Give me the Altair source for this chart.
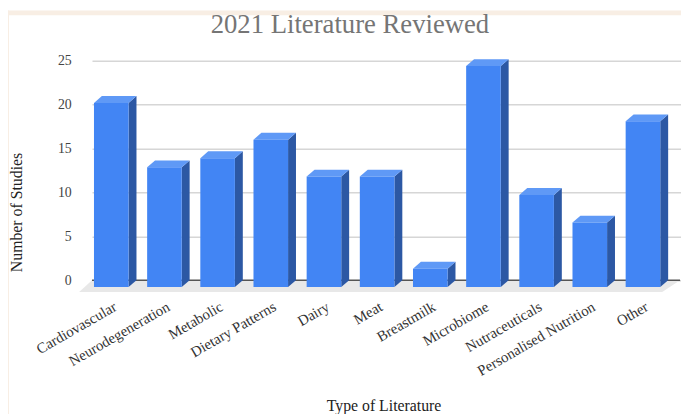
import json
import altair as alt
import pandas as pd

# ---------------- data ----------------
categories = ["Cardiovascular", "Neurodegeneration", "Metabolic", "Dietary Patterns",
              "Dairy", "Meat", "Breastmilk", "Microbiome", "Nutraceuticals",
              "Personalised Nutrition", "Other"]
studies = [20, 13, 14, 16, 12, 12, 2, 24, 10, 7, 18]
y_ticks = [0, 5, 10, 15, 20, 25]

# ---------------- geometry (pixels, plot coords) ----------------
PAD_L, PAD_T = 85, 40
PLOT_W, PLOT_H = 596, 247
TOTAL_W, TOTAL_H = 681, 406
X_FIRST, X_LAST = 19.5, 557.5          # front-face centre of first / last bar
STEP = (X_LAST - X_FIRST) / (len(categories) - 1)
BAR_W = 35
DEPTH_X, DEPTH_Y = 8, 7
FRONT_RANGE = [240, 7]                 # front plane: 0 -> 240px, 25 -> 7px
BACK_RANGE = [233, 11]                 # back wall (grid): 0 -> 233px, 25 -> 11px
Y_DOMAIN = [0, 25]
FLOOR_FRONT_PX, FLOOR_BACK_PX = 245, 233
FLOOR_X_PX = (-13, 577, 0, 595)        # front-left, front-right, back-left, back-right

px_per_unit = (FRONT_RANGE[0] - FRONT_RANGE[1]) / (Y_DOMAIN[1] - Y_DOMAIN[0])
hw = BAR_W / 2 / STEP
ddx = DEPTH_X / STEP
ddy = DEPTH_Y / px_per_unit

def px_to_x(p):
    return (p - X_FIRST) / STEP

def px_to_y(p):
    return (FRONT_RANGE[0] - p) / px_per_unit

FRONT = "#4285F4"
SIDE = "#2C58A4"
TOP = "#5F99F6"
FLOOR = "#E8E8E8"
BEIGE = "#F8EEE4"
SERIF = "Liberation Serif"

# ---------------- tables ----------------
front_df = pd.DataFrame({
    "cat": categories, "v": studies,
    "x": [i - hw for i in range(len(categories))],
    "x2": [i + hw for i in range(len(categories))],
    "lo": [0] * len(categories),
})

side_rows, top_rows = [], []
for i, v in enumerate(studies):
    side_rows += [
        {"bar": i, "x": i + hw, "lo": 0, "hi": v},
        {"bar": i, "x": i + hw + ddx, "lo": ddy, "hi": v + ddy},
    ]
    top_rows += [
        {"bar": i, "x": i - hw, "lo": v, "hi": v},
        {"bar": i, "x": i - hw + ddx, "lo": v, "hi": v + ddy},
        {"bar": i, "x": i + hw, "lo": v, "hi": v + ddy},
        {"bar": i, "x": i + hw + ddx, "lo": v + ddy, "hi": v + ddy},
    ]
side_df = pd.DataFrame(side_rows)
top_df = pd.DataFrame(top_rows)

yf, yb = px_to_y(FLOOR_FRONT_PX), px_to_y(FLOOR_BACK_PX)
fl, fr, bl, br = [px_to_x(p) for p in FLOOR_X_PX]
floor_df = pd.DataFrame([
    {"x": fl, "lo": yf, "hi": yf},
    {"x": bl, "lo": yf, "hi": yb},
    {"x": fr, "lo": yf, "hi": yb},
    {"x": br, "lo": yb, "hi": yb},
])

# ---------------- scales / axes ----------------
x_scale = alt.Scale(domain=[0, len(categories) - 1], range=[X_FIRST, X_LAST], zero=False, nice=False)
front_y = alt.Scale(domain=Y_DOMAIN, range=FRONT_RANGE, zero=False, nice=False)
back_y = alt.Scale(domain=Y_DOMAIN, range=BACK_RANGE, zero=False, nice=False)

label_expr = json.dumps(categories) + "[datum.value]"
x_axis = alt.Axis(
    values=list(range(len(categories))), labelExpr=label_expr, labelAngle=-30,
    labelAlign="right", labelBaseline="top", labelPadding=5, labelOffset=0,
    labelFont=SERIF, labelFontSize=15, labelColor="#333333", labelOverlap=False,
    domain=False, ticks=False, grid=False,
    title="Type of Literature", titleFont=SERIF, titleFontSize=16, titleFontWeight="normal",
    titleColor="#222222", titleX=295, titleY=113, titleBaseline="middle",
    titleAlign="center",
)

def X(field="x"):
    return alt.X(f"{field}:Q", scale=x_scale, axis=x_axis)

# beige frame strips (top and left edge of the picture)
strip_top = alt.Chart(pd.DataFrame({"a": [0]})).mark_rect(color=BEIGE).encode(
    x=alt.value(-PAD_L), x2=alt.value(TOTAL_W),
    y=alt.value(-PAD_T), y2=alt.value(5 - PAD_T),
)
strip_left = alt.Chart(pd.DataFrame({"a": [0]})).mark_rect(color=BEIGE).encode(
    x=alt.value(-PAD_L), x2=alt.value(1 - PAD_L),
    y=alt.value(-PAD_T), y2=alt.value(TOTAL_H),
)

# grid wall (back plane) with the visible y axis
grid = alt.Chart(pd.DataFrame({"t": [0]})).mark_rule(color="#555555", strokeWidth=1.5).encode(
    y=alt.Y("t:Q", scale=back_y, axis=alt.Axis(
        orient="left", values=y_ticks, grid=True, gridColor="#D6D6D6", gridWidth=1.5,
        domain=False, ticks=False, labelPadding=21, labelFont=SERIF, labelFontSize=14,
        labelColor="#444444",
        title="Number of Studies", titleFont=SERIF, titleFontSize=16, titleFontWeight="normal",
        titleColor="#222222", titleX=-76, titleY=164, titleAngle=-90,
        titleAlign="center", titleBaseline="middle",
    )),
    x=alt.value(0), x2=alt.value(595),
)

floor = alt.Chart(floor_df).mark_area(color=FLOOR).encode(
    x=X(), y=alt.Y("lo:Q", scale=front_y, axis=None), y2="hi:Q",
)

side = alt.Chart(side_df).mark_area(color=SIDE).encode(
    x=X(), y=alt.Y("lo:Q", scale=front_y, axis=None), y2="hi:Q", detail="bar:N",
)

top = alt.Chart(top_df).mark_area(color=TOP).encode(
    x=X(), y=alt.Y("lo:Q", scale=front_y, axis=None), y2="hi:Q", detail="bar:N",
)

front = alt.Chart(front_df).mark_rect(color=FRONT).encode(
    x=X(), x2="x2:Q",
    y=alt.Y("lo:Q", scale=front_y, axis=None), y2="v:Q",
    tooltip=["cat:N", "v:Q"],
)

chart = alt.layer(strip_top, strip_left, floor, grid, side, top, front).resolve_scale(
    y="independent"
).properties(
    width=PLOT_W, height=PLOT_H,
    autosize=alt.AutoSizeParams(type="none"),
    padding={"left": PAD_L, "top": PAD_T, "right": TOTAL_W - PAD_L - PLOT_W,
             "bottom": TOTAL_H - PAD_T - PLOT_H},
    background="white",
    title=alt.TitleParams("2021 Literature Reviewed", font=SERIF, fontSize=27,
                          fontWeight="normal", color="#757575", anchor="middle",
                          dx=-37, dy=37, offset=8),
).configure_view(stroke=None)

chart.save("out.html", embed_options={"renderer": "svg", "actions": False})
